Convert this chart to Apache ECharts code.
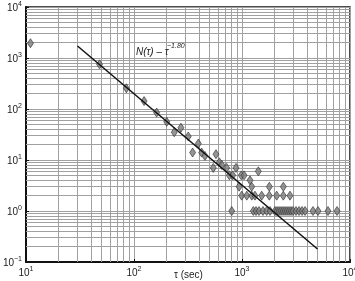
<!DOCTYPE html>
<html><head><meta charset="utf-8">
<script src="https://cdn.jsdelivr.net/npm/echarts@6/dist/echarts.min.js"></script>
<style>html,body{margin:0;padding:0;background:#fff}#c{width:355px;height:281px}</style>
</head><body><div id="c"></div>
<script>
// Observed data: tau (sec) and N(tau)
const tau = [11, 48, 85, 124, 162, 201, 236, 272, 318, 349, 394, 423, 454, 574, 542, 617, 649, 721, 764, 820, 880, 985, 1045, 1186, 1230, 1416, 940, 1791, 2414,
  993, 1107, 1232, 1318, 1522, 1790, 2095, 2412, 2781,
  803, 1273, 1349, 1437, 1564, 1693, 1817, 2022, 2110, 2203, 2298, 2398, 2502, 2610, 2724, 2842, 2965, 3162, 3373, 3597, 3836, 4541, 5056, 6255, 7586];
const nTau = [1950, 750, 255, 143, 85, 56, 35, 43, 29, 14, 21, 14, 12, 13, 7, 9, 8, 7, 5, 5, 7, 5, 5, 4, 3, 6, 3, 3, 3,
  2, 2, 2, 2, 2, 2, 2, 2, 2,
  1, 1, 1, 1, 1, 1, 1, 1, 1, 1, 1, 1, 1, 1, 1, 1, 1, 1, 1, 1, 1, 1, 1, 1, 1];
// Power-law fit endpoints N ~ tau^-1.80
const fitTau = [30, 5000];
const fitN = [1720, 0.18];
const xTickExps = [1, 2, 3, 4];
const yTickExps = [-1, 0, 1, 2, 3, 4];
const annotation = 'N(τ) – τ';
const annotationExp = '−1.80';
const xTitle = 'τ (sec)';
const yTitle = 'N(τ)';

const pts = tau.map((t, i) => [t, nTau[i]]);
const fit = fitTau.map((t, i) => [t, fitN[i]]);

const gridColor = '#a0a0a0';
const xMinor = [], yMinor = [];
for (let k = 1; k <= 3; k++) for (let m = 2; m <= 9; m++) xMinor.push(m * Math.pow(10, k));
for (let k = -1; k <= 3; k++) for (let m = 2; m <= 9; m++) yMinor.push(+(m * Math.pow(10, k)).toPrecision(3));

function expLabel(v, exps) {
  const e = Math.round(Math.log10(v));
  if (exps.indexOf(e) < 0) return '';
  return '{b|10}{s|' + (e < 0 ? '−' + (-e) : e) + '}';
}
const richLab = {
  b: { fontSize: 10, color: '#222', fontFamily: 'Liberation Sans', lineHeight: 12, verticalAlign: 'bottom' },
  s: { fontSize: 7, color: '#222', fontFamily: 'Liberation Sans', lineHeight: 12, verticalAlign: 'top' }
};

const chart = echarts.init(document.getElementById('c'));
chart.setOption({
  animation: false,
  grid: { left: 26, right: 5, top: 7, bottom: 19, containLabel: false, outerBoundsMode: 'none',
          show: true, borderColor: '#111', borderWidth: 1.5 },
  xAxis: {
    type: 'log', logBase: 10, min: 10, max: 10000,
    axisLine: { show: true, lineStyle: { color: '#111', width: 2 } },
    axisTick: { show: true, inside: true, length: 3, lineStyle: { color: '#111' } },
    axisLabel: { margin: 4, formatter: v => expLabel(v, xTickExps), rich: richLab, hideOverlap: false },
    splitLine: { show: true, lineStyle: { color: gridColor, width: 1 } }
  },
  yAxis: {
    type: 'log', logBase: 10, min: 0.1, max: 10000,
    name: yTitle, nameLocation: 'middle', nameGap: 20, nameRotate: 90,
    nameTextStyle: { fontSize: 10, color: '#222', fontFamily: 'Liberation Sans' },
    axisLine: { show: true, lineStyle: { color: '#111', width: 2 } },
    axisTick: { show: true, inside: true, length: 3, lineStyle: { color: '#111' } },
    axisLabel: { margin: 4, formatter: v => expLabel(v, yTickExps), rich: richLab, hideOverlap: false },
    splitLine: { show: true, lineStyle: { color: gridColor, width: 1 } }
  },
  series: [
    {
      type: 'line', data: [], silent: true, z: 1,
      markLine: {
        silent: true, symbol: 'none', animation: false, z: 1,
        label: { show: false },
        lineStyle: { color: gridColor, width: 1, type: 'solid' },
        emphasis: { disabled: true },
        data: xMinor.map(v => ({ xAxis: v })).concat(yMinor.map(v => ({ yAxis: v })))
      }
    },
    {
      type: 'scatter', data: pts, symbol: 'diamond', symbolSize: [6, 9], z: 3,
      itemStyle: { color: '#7a7a7a', borderColor: '#333', borderWidth: 0.8 }
    },
    {
      type: 'line', data: fit, symbol: 'none', z: 5, silent: true,
      lineStyle: { color: '#111', width: 1.5, type: 'solid' }
    }
  ],
  graphic: [
    { type: 'text', left: 136, top: 47, z: 10,
      style: { text: annotation, fontSize: 10, fontStyle: 'italic', fill: '#222', fontFamily: 'Liberation Sans' } },
    { type: 'text', left: 167, top: 43, z: 10,
      style: { text: annotationExp, fontSize: 7, fontStyle: 'italic', fill: '#222', fontFamily: 'Liberation Sans' } },
    { type: 'text', left: 174, top: 270, z: 10,
      style: { text: xTitle, fontSize: 10, fill: '#222', fontFamily: 'Liberation Sans' } }
  ]
});
</script></body></html>
